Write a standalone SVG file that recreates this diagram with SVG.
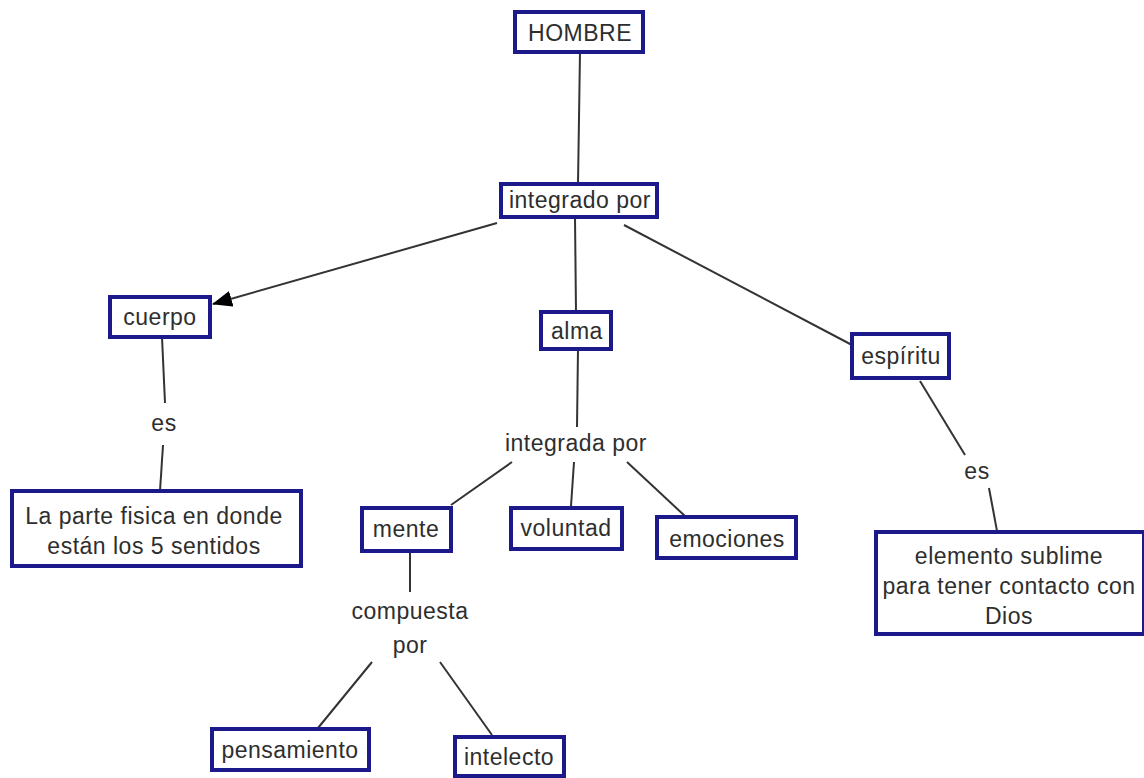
<svg xmlns="http://www.w3.org/2000/svg" width="1144" height="778" viewBox="0 0 1144 778">
  <style>
    .box { fill: #ffffff; stroke: #1c1a8a; stroke-width: 4; }
    .t { font-family: "Liberation Sans", Arial, sans-serif; font-size: 23px; fill: #2e2e2e; text-anchor: middle; letter-spacing: 0.5px; }
    .ln { stroke: #333333; stroke-width: 2; fill: none; }
  </style>
  <defs>
    <marker id="arrow" markerWidth="20" markerHeight="16" refX="19" refY="8" orient="auto" markerUnits="userSpaceOnUse" viewBox="0 0 20 16">
      <path d="M0,0 L20,8 L0,16 Z" fill="#000000"/>
    </marker>
  </defs>
  <rect width="1144" height="778" fill="#ffffff"/>

  <!-- connectors -->
  <g id="connectors">
    <line class="ln" x1="580" y1="52" x2="578" y2="184"/>
    <line class="ln" x1="497" y1="223" x2="213" y2="304" marker-end="url(#arrow)"/>
    <line class="ln" x1="575" y1="217" x2="576" y2="312"/>
    <line class="ln" x1="624" y1="225" x2="852" y2="345"/>
    <line class="ln" x1="162" y1="337" x2="165" y2="403"/>
    <line class="ln" x1="163" y1="445" x2="160" y2="491"/>
    <line class="ln" x1="578" y1="349" x2="577" y2="427"/>
    <line class="ln" x1="512" y1="462" x2="451" y2="505"/>
    <line class="ln" x1="574" y1="462" x2="571" y2="506"/>
    <line class="ln" x1="627" y1="462" x2="686" y2="517"/>
    <line class="ln" x1="410" y1="551" x2="410" y2="592"/>
    <line class="ln" x1="372" y1="662" x2="318" y2="728"/>
    <line class="ln" x1="440" y1="662" x2="492" y2="735"/>
    <line class="ln" x1="920" y1="381" x2="965" y2="455"/>
    <line class="ln" x1="989" y1="488" x2="997" y2="531"/>
  </g>

  <!-- concepts -->
  <g id="hombre">
    <rect class="box" x="515" y="12" width="128" height="40"/>
    <text class="t" x="580" y="41">HOMBRE</text>
  </g>
  <g id="integrado-por">
    <rect class="box" x="501" y="184" width="156" height="33"/>
    <text class="t" x="580" y="208">integrado por</text>
  </g>
  <g id="cuerpo">
    <rect class="box" x="110" y="297" width="100" height="40"/>
    <text class="t" x="160" y="325">cuerpo</text>
  </g>
  <g id="alma">
    <rect class="box" x="541" y="312" width="70" height="37"/>
    <text class="t" x="577" y="339">alma</text>
  </g>
  <g id="espiritu">
    <rect class="box" x="852" y="334" width="97" height="44"/>
    <text class="t" x="901" y="364">espíritu</text>
  </g>
  <g id="es-cuerpo">
    <text class="t" x="164" y="431">es</text>
  </g>
  <g id="parte-fisica">
    <rect class="box" x="12" y="491" width="289" height="75"/>
    <text class="t" x="154" y="524">La parte fisica en donde</text>
    <text class="t" x="154" y="554">están los 5 sentidos</text>
  </g>
  <g id="integrada-por">
    <text class="t" x="576" y="451">integrada por</text>
  </g>
  <g id="mente">
    <rect class="box" x="362" y="508" width="89" height="43"/>
    <text class="t" x="406" y="537">mente</text>
  </g>
  <g id="voluntad">
    <rect class="box" x="511" y="508" width="111" height="41"/>
    <text class="t" x="566" y="536">voluntad</text>
  </g>
  <g id="emociones">
    <rect class="box" x="657" y="517" width="139" height="41"/>
    <text class="t" x="727" y="547">emociones</text>
  </g>
  <g id="compuesta-por">
    <text class="t" x="410" y="619">compuesta</text>
    <text class="t" x="410" y="653">por</text>
  </g>
  <g id="pensamiento">
    <rect class="box" x="212" y="729" width="157" height="41"/>
    <text class="t" x="290" y="758">pensamiento</text>
  </g>
  <g id="intelecto">
    <rect class="box" x="455" y="737" width="109" height="39"/>
    <text class="t" x="509" y="765">intelecto</text>
  </g>
  <g id="es-espiritu">
    <text class="t" x="977" y="479">es</text>
  </g>
  <g id="elemento-sublime">
    <rect class="box" x="876" y="532" width="268" height="102"/>
    <text class="t" x="1009" y="564">elemento sublime</text>
    <text class="t" x="1009" y="594">para tener contacto con</text>
    <text class="t" x="1009" y="624">Dios</text>
  </g>
</svg>
